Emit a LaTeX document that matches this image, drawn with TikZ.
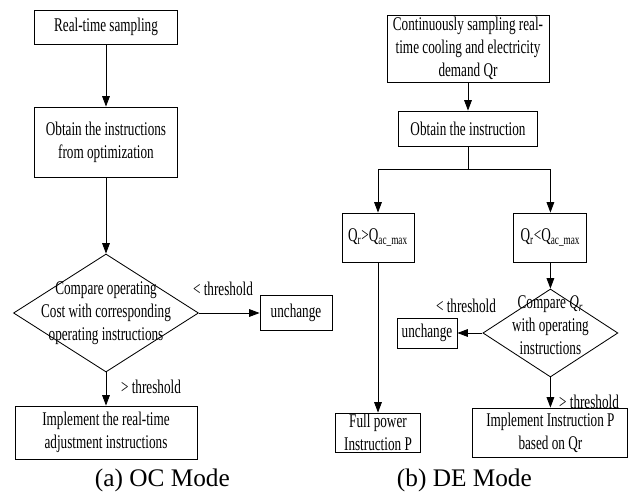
\documentclass[tikz,border=0pt]{standalone}
\usepackage{fontspec}
\setmainfont{Liberation Serif}
\newfontfamily\narrowfont[FakeStretch=0.68]{Liberation Serif}
\usetikzlibrary{arrows.meta,shapes.geometric}

\begin{document}
\begin{tikzpicture}[
  >={Triangle[length=7.5pt,width=5.5pt]},
  every path/.style={line width=0.6pt},
  txt/.style={inner sep=0pt,align=center,font=\narrowfont\fontsize{13.8}{16.3}\selectfont},
  box/.style={txt,draw,rectangle},
  decision/.style={draw,diamond,inner sep=0pt},
  caption/.style={inner sep=0pt,font=\fontsize{18}{20}\selectfont}
]
\useasboundingbox (0,0) rectangle (15.775,12.325);

\node at (2.65,11.65) [box,minimum width=3.575cm,minimum height=0.85cm] (LReal) {Real-time sampling};
\node at (2.65,8.775) [box,minimum width=3.575cm,minimum height=1.75cm] (LObtain) {Obtain the instructions\\from optimization};
\node at (2.65,4.5) [decision,minimum width=4.625cm,minimum height=2.95cm] (LComp) {};
\node at (LComp) [txt] (LCompText) {Compare operating\\Cost with corresponding\\operating instructions};
\node at (7.4,4.5) [box,minimum width=1.8cm,minimum height=0.875cm] (LUnch) {unchange};
\node at (2.65,1.5125) [box,minimum width=4.55cm,minimum height=1.325cm] (LImpl) {Implement the real-time\\adjustment instructions};

\draw[->] (LReal) -- (LObtain);
\draw[->] (LObtain) -- (LComp);
\draw[->] (LComp) -- (LUnch);
\draw[->] (LComp) -- (LImpl);

\node at (5.575,5.1) [txt] (LLess) {< threshold};
\node at (3.775,2.65) [txt] (LMore) {> threshold};

\node at (11.7,11.1125) [box,minimum width=4.05cm,minimum height=1.675cm] (RCont) {Continuously sampling real-\\time cooling and electricity\\demand Qr};
\node at (11.7,9.1125) [box,minimum width=3.475cm,minimum height=0.875cm] (RObtain) {Obtain the instruction};
\node at (9.45,6.3875) [box,minimum width=1.8cm,minimum height=1.225cm] (RGreater) {Q\textsubscript{r}>Q\textsubscript{ac\_max}};
\node at (13.76,6.3875) [box,minimum width=1.825cm,minimum height=1.225cm] (RLess) {Q\textsubscript{r}<Q\textsubscript{ac\_max}};
\node at (9.45,1.5125) [box,minimum width=2.125cm,minimum height=0.975cm] (RFull) {Full power\\Instruction P};
\node at (13.76,4.0) [decision,minimum width=3.375cm,minimum height=2.2cm] (RComp) {};
\node at (13.76,4.2) [txt] (RCompText) {Compare \textit{Q\textsubscript{r}}\\with operating\\instructions};
\node at (10.675,4.0) [box,minimum width=1.5cm,minimum height=0.75cm] (RUnch) {unchange};
\node at (13.76,1.5125) [box,minimum width=3.875cm,minimum height=1.225cm] (RImpl) {Implement Instruction P\\based on Qr};

\draw[->] (RCont) -- (RObtain);
\draw[->] (RObtain.south) -- ++(0,-0.575) -| (RGreater.north);
\draw[->] (RObtain.south) -- ++(0,-0.575) -| (RLess.north);
\draw[->] (RGreater) -- (RFull);
\draw[->] (RLess) -- (RComp);
\draw[->] (RComp) -- (RUnch);
\draw[->] (RComp) -- (RImpl);

\node at (11.65,4.675) [txt] (RLessLbl) {< threshold};
\node at (14.725,2.275) [txt] (RMoreLbl) {> threshold};

\node at (4.06,0.325) [caption] (CapA) {(a) OC Mode};
\node at (11.61,0.325) [caption] (CapB) {(b) DE Mode};

\end{tikzpicture}
\end{document}
